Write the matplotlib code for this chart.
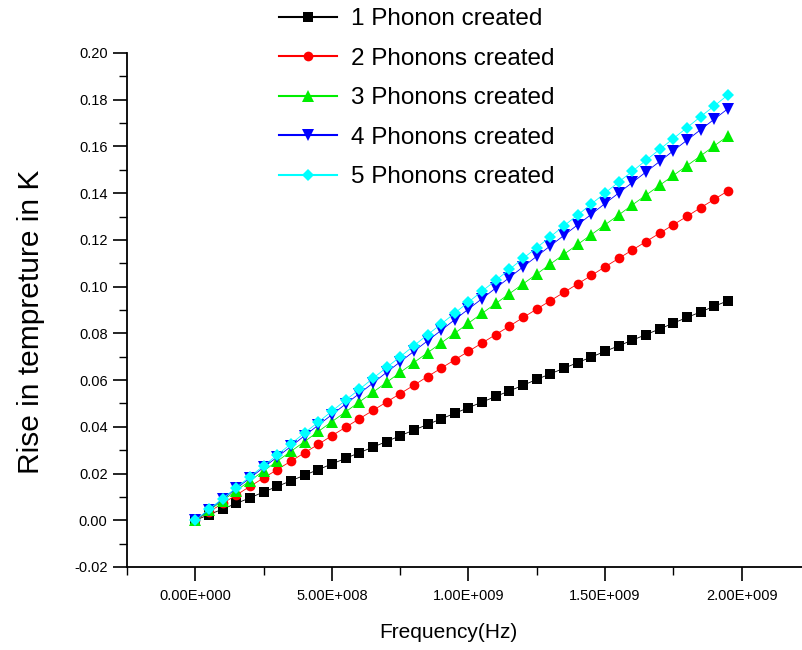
import matplotlib
matplotlib.use("Agg")
import matplotlib.pyplot as plt
from matplotlib.ticker import MultipleLocator, FuncFormatter

plt.rcParams['font.family'] = ['Liberation Sans', 'DejaVu Sans']

freq_e8 = [0.0, 0.5, 1.0, 1.5, 2.0, 2.5, 3.0, 3.5, 4.0, 4.5,
           5.0, 5.5, 6.0, 6.5, 7.0, 7.5, 8.0, 8.5, 9.0, 9.5,
           10.0, 10.5, 11.0, 11.5, 12.0, 12.5, 13.0, 13.5, 14.0, 14.5,
           15.0, 15.5, 16.0, 16.5, 17.0, 17.5, 18.0, 18.5, 19.0, 19.5]

one_phonon = [0.0, 0.0024, 0.0048, 0.0072, 0.0096, 0.0121, 0.0145, 0.0169, 0.0193, 0.0217,
              0.0241, 0.0265, 0.0289, 0.0313, 0.0337, 0.0362, 0.0386, 0.0410, 0.0434, 0.0458,
              0.0482, 0.0506, 0.0530, 0.0554, 0.0578, 0.0603, 0.0627, 0.0651, 0.0675, 0.0699,
              0.0723, 0.0747, 0.0771, 0.0795, 0.0819, 0.0844, 0.0868, 0.0892, 0.0916, 0.0940]
two_phonons = [0.0, 0.0036, 0.0072, 0.0108, 0.0145, 0.0181, 0.0217, 0.0253, 0.0289, 0.0325,
               0.0362, 0.0398, 0.0434, 0.0470, 0.0506, 0.0542, 0.0578, 0.0615, 0.0651, 0.0687,
               0.0723, 0.0759, 0.0795, 0.0831, 0.0868, 0.0904, 0.0940, 0.0976, 0.1012, 0.1048,
               0.1085, 0.1121, 0.1157, 0.1193, 0.1229, 0.1265, 0.1301, 0.1338, 0.1374, 0.1410]
three_phonons = [0.0, 0.0042, 0.0084, 0.0127, 0.0169, 0.0211, 0.0253, 0.0295, 0.0337, 0.0380,
                 0.0422, 0.0464, 0.0506, 0.0548, 0.0590, 0.0633, 0.0675, 0.0717, 0.0759, 0.0801,
                 0.0844, 0.0886, 0.0928, 0.0970, 0.1012, 0.1054, 0.1097, 0.1139, 0.1181, 0.1223,
                 0.1265, 0.1307, 0.1350, 0.1392, 0.1434, 0.1476, 0.1518, 0.1560, 0.1603, 0.1645]
four_phonons = [0.0, 0.0045, 0.0090, 0.0136, 0.0181, 0.0226, 0.0271, 0.0316, 0.0362, 0.0407,
                0.0452, 0.0497, 0.0542, 0.0587, 0.0633, 0.0678, 0.0723, 0.0768, 0.0813, 0.0859,
                0.0904, 0.0949, 0.0994, 0.1039, 0.1085, 0.1130, 0.1175, 0.1220, 0.1265, 0.1310,
                0.1356, 0.1401, 0.1446, 0.1491, 0.1536, 0.1582, 0.1627, 0.1672, 0.1717, 0.1762]
five_phonons = [0.0, 0.0047, 0.0093, 0.0140, 0.0187, 0.0233, 0.0280, 0.0327, 0.0374, 0.0420,
                0.0467, 0.0514, 0.0560, 0.0607, 0.0654, 0.0700, 0.0747, 0.0794, 0.0840, 0.0887,
                0.0934, 0.0981, 0.1027, 0.1074, 0.1121, 0.1167, 0.1214, 0.1261, 0.1307, 0.1354,
                0.1401, 0.1448, 0.1494, 0.1541, 0.1588, 0.1634, 0.1681, 0.1728, 0.1774, 0.1821]

series_labels = ["1 Phonon created", "2 Phonons created", "3 Phonons created",
                 "4 Phonons created", "5 Phonons created"]
series_values = [one_phonon, two_phonons, three_phonons, four_phonons, five_phonons]
colors = ["#000000", "#ff0000", "#00ee00", "#0000ff", "#00ffff"]
markers = ["s", "o", "^", "v", "D"]
msizes = [6.5, 7, 8.5, 8.5, 6.5]

x_ticks = [0.0, 5e8, 1e9, 1.5e9, 2e9]
x_tick_labels = ["0.00E+000", "5.00E+008", "1.00E+009", "1.50E+009", "2.00E+009"]

freq = [f * 1e8 for f in freq_e8]

fig = plt.figure(figsize=(8.03, 6.5), dpi=100)
ax = fig.add_axes([127/803, 1 - 567/650, (810 - 127)/803, (567 - 53)/650])

for vals, lab, c, m, ms in zip(series_values, series_labels, colors, markers, msizes):
    ax.plot(freq, vals, color=c, marker=m, markersize=ms, linewidth=0.6,
            markeredgewidth=0, label=lab)

ax.set_xlim(-2.5e8, 2.25e9)
ax.set_ylim(-0.02, 0.20)
ax.set_xticks(x_ticks)
ax.set_xticklabels(x_tick_labels)
ax.xaxis.set_minor_locator(MultipleLocator(2.5e8))
ax.yaxis.set_major_locator(MultipleLocator(0.02))
ax.yaxis.set_minor_locator(MultipleLocator(0.01))
ax.yaxis.set_major_formatter(FuncFormatter(lambda v, p: f"{v:.2f}"))

for s in ["top", "right"]:
    ax.spines[s].set_visible(False)
for s in ["left", "bottom"]:
    ax.spines[s].set_linewidth(1.3)

ax.tick_params(which="major", direction="out", length=10, width=1.2, labelsize=10.5, pad=4)
ax.tick_params(which="minor", direction="out", length=6, width=1.0)
ax.tick_params(axis="x", which="major", pad=6)

ax.set_xlabel("Frequency(Hz)", fontsize=15)
ax.xaxis.set_label_coords(0.47, -0.109)
ax.set_ylabel("Rise in tempreture in K", fontsize=21.5)
ax.yaxis.set_label_coords(-0.12, 0.477)

leg = fig.legend(loc="upper left", bbox_to_anchor=(279/803, 1 - 8/650), frameon=False,
                 fontsize=17.5, handlelength=2.4, handletextpad=0.55, labelspacing=0.72,
                 borderpad=0, borderaxespad=0)
for ln in leg.get_lines():
    ln.set_linewidth(1.5)

fig.savefig("out.png", dpi=100)
